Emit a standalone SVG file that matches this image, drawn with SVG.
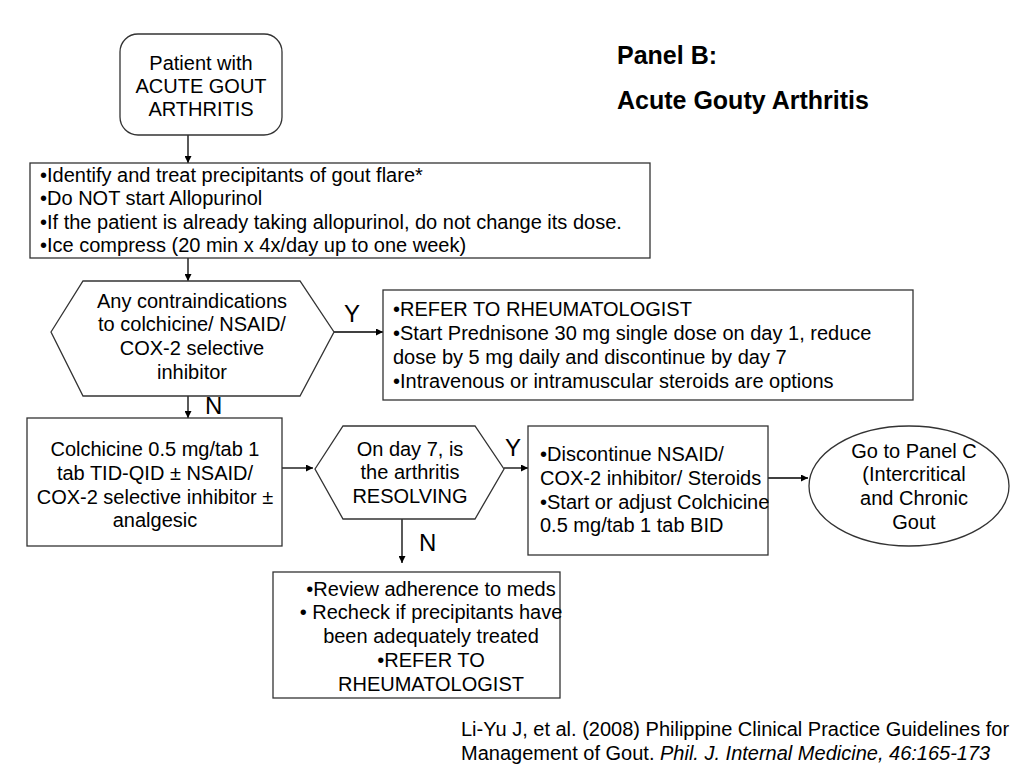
<svg xmlns="http://www.w3.org/2000/svg" width="1024" height="768" viewBox="0 0 1024 768">
<defs>
<style>
.box{fill:#fff;stroke:#333;stroke-width:1.3}
.t{font-family:"Liberation Sans",Arial,sans-serif;font-size:20px;fill:#000}
.c{text-anchor:middle}
.lbl{font-family:"Liberation Sans",Arial,sans-serif;font-size:24px;fill:#000}
.ttl{font-family:"Liberation Sans",Arial,sans-serif;font-size:25px;font-weight:bold;fill:#000}
.ln{stroke:#000;stroke-width:1.3;fill:none;marker-end:url(#ah)}
</style>
<marker id="ah" viewBox="0 0 10 10" refX="10" refY="5" markerWidth="7" markerHeight="7" markerUnits="userSpaceOnUse" orient="auto"><path d="M0,0L10,5L0,10z" fill="#000"/></marker>
</defs>
<rect width="1024" height="768" fill="#fff"/>
<g id="connectors">
<line class="ln" x1="188" y1="135" x2="188" y2="163"/>
<line class="ln" x1="188" y1="258" x2="188" y2="281"/>
<line class="ln" x1="334" y1="332" x2="383" y2="332"/>
<line class="ln" x1="188" y1="396" x2="188" y2="418"/>
<line class="ln" x1="282" y1="468" x2="313" y2="468"/>
<line class="ln" x1="504" y1="468" x2="528" y2="468"/>
<line class="ln" x1="768" y1="478" x2="808" y2="478"/>
<line class="ln" x1="402" y1="519" x2="402" y2="563"/>
<text class="lbl" x="344" y="322">Y</text>
<text class="lbl" x="205" y="414">N</text>
<text class="lbl" x="505" y="456">Y</text>
<text class="lbl" x="419" y="551">N</text>
</g>
<g id="start">
<rect class="box" x="120" y="34" width="162" height="101" rx="18"/>
<text class="t c" x="201" y="70">Patient with</text>
<text class="t c" x="201" y="93">ACUTE GOUT</text>
<text class="t c" x="201" y="116">ARTHRITIS</text>
</g>
<g id="precip">
<rect class="box" x="30" y="163" width="620" height="95"/>
<text class="t" x="40" y="182">•Identify and treat precipitants of gout flare*</text>
<text class="t" x="40" y="205">•Do NOT start Allopurinol</text>
<text class="t" x="40" y="229">•If the patient is already taking allopurinol, do not change its dose.</text>
<text class="t" x="40" y="252">•Ice compress (20 min x 4x/day up to one week)</text>
</g>
<g id="contra">
<polygon class="box" points="51,332 83,281 300,281 334,332 300,396 83,396"/>
<text class="t c" x="192" y="308">Any contraindications</text>
<text class="t c" x="192" y="331">to colchicine/ NSAID/</text>
<text class="t c" x="192" y="355">COX-2 selective</text>
<text class="t c" x="192" y="379">inhibitor</text>
</g>
<g id="refer">
<rect class="box" x="383" y="290" width="530" height="110"/>
<text class="t" x="393" y="316">•REFER TO RHEUMATOLOGIST</text>
<text class="t" x="393" y="340">•Start Prednisone 30 mg single dose on day 1, reduce</text>
<text class="t" x="393" y="364">dose by 5 mg daily and discontinue by day 7</text>
<text class="t" x="393" y="388">•Intravenous or intramuscular steroids are options</text>
</g>
<g id="colchicine">
<rect class="box" x="27" y="418" width="255" height="128"/>
<text class="t c" x="155" y="456">Colchicine 0.5 mg/tab 1</text>
<text class="t c" x="155" y="480">tab TID-QID ± NSAID/</text>
<text class="t c" x="155" y="504">COX-2 selective inhibitor ±</text>
<text class="t c" x="155" y="527">analgesic</text>
</g>
<g id="resolving">
<polygon class="box" points="315,469 343,426 475,426 504,469 475,519 343,519"/>
<text class="t c" x="410" y="456">On day 7, is</text>
<text class="t c" x="410" y="479">the arthritis</text>
<text class="t c" x="410" y="503">RESOLVING</text>
</g>
<g id="discontinue">
<rect class="box" x="528" y="426" width="240" height="129"/>
<text class="t" x="540" y="461">•Discontinue NSAID/</text>
<text class="t" x="540" y="485">COX-2 inhibitor/ Steroids</text>
<text class="t" x="540" y="509">•Start or adjust Colchicine</text>
<text class="t" x="540" y="532">0.5 mg/tab 1 tab BID</text>
</g>
<g id="panelC">
<ellipse class="box" cx="909" cy="486" rx="100" ry="60"/>
<text class="t c" x="914" y="458">Go to Panel C</text>
<text class="t c" x="914" y="481">(Intercritical</text>
<text class="t c" x="914" y="505">and Chronic</text>
<text class="t c" x="914" y="529">Gout</text>
</g>
<g id="review">
<rect class="box" x="273" y="572" width="287" height="126"/>
<text class="t c" x="431" y="596">•Review adherence to meds</text>
<text class="t c" x="431" y="619">• Recheck if precipitants have</text>
<text class="t c" x="431" y="643">been adequately treated</text>
<text class="t c" x="431" y="667">•REFER TO</text>
<text class="t c" x="431" y="691">RHEUMATOLOGIST</text>
</g>
<g id="title">
<text class="ttl" x="617" y="64">Panel B:</text>
<text class="ttl" x="617" y="109">Acute Gouty Arthritis</text>
</g>
<g id="citation">
<text class="t" x="461" y="736">Li-Yu J, et al. (2008) Philippine Clinical Practice Guidelines for</text>
<text class="t" x="461" y="760">Management of Gout. <tspan font-style="italic">Phil. J. Internal Medicine, 46:165-173</tspan></text>
</g>
</svg>
